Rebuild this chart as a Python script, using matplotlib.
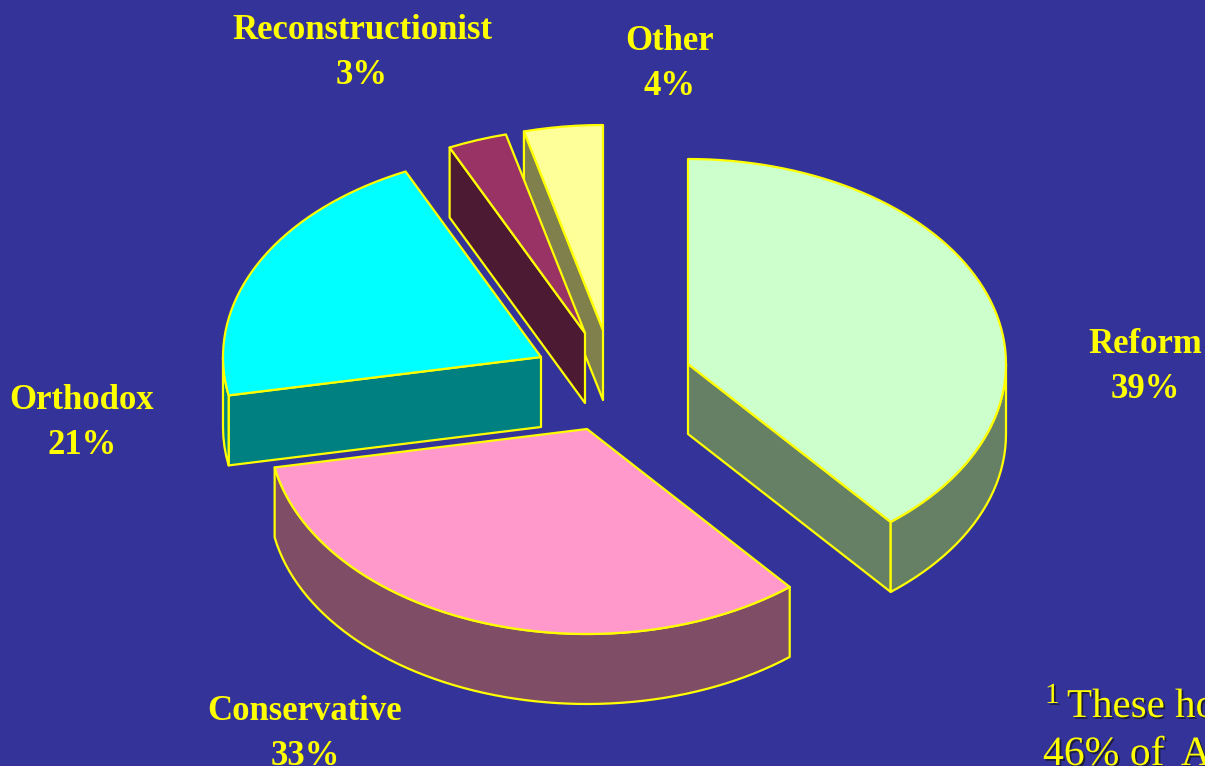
import numpy as np
import matplotlib
matplotlib.use("Agg")
import matplotlib.pyplot as plt
from matplotlib.patches import Polygon
import matplotlib.patheffects as pe

categories = ["Reform", "Conservative", "Orthodox", "Reconstructionist", "Other"]
shares = [39, 33, 21, 3, 4]
share_labels = ["39%", "33%", "21%", "3%", "4%"]
note_lines = ["These ho", "46% of\u2009 A"]

top_colors = ["#CCFFCC", "#FF99CC", "#00FFFF", "#993366", "#FFFF99"]
side_colors = ["#668066", "#804D66", "#008080", "#4D1A33", "#80804D"]
apexes = [(688, 364), (587, 429), (541, 357), (585, 333), (603, 330)]
label_xy = [(1145, 364), (305, 731), (82, 420), (362, 50), (670, 61)]
visible_radial = [1, None, 0, 0, 0]  # which radial edge of each slice shows
draw_order = [4, 3, 2, 0, 1]

RX, RY, DEPTH = 318, 205, 70
BG = "#333399"
EDGE = "#FFFF00"

plt.rcParams["font.family"] = ["Liberation Serif", "DejaVu Serif"]
fig = plt.figure(figsize=(12.05, 7.66), dpi=100, facecolor=BG)
ax = fig.add_axes([0, 0, 1, 1])
ax.set_xlim(0, 1205)
ax.set_ylim(766, 0)
ax.axis("off")

fractions = np.cumsum([0] + shares) / sum(shares) * 2 * np.pi


def rim(apex, a0, a1):
    t = np.linspace(a0, a1, max(3, int((a1 - a0) * 30)))
    return np.column_stack([apex[0] + RX * np.sin(t), apex[1] - RY * np.cos(t)])


def face(points, color, z):
    ax.add_patch(Polygon(points, closed=True, facecolor=color, edgecolor=EDGE,
                         linewidth=1.6, joinstyle="round", zorder=z))


for rank, i in enumerate(draw_order):
    a0, a1 = fractions[i], fractions[i + 1]
    apex = np.array(apexes[i], float)
    z = 2 + rank
    down = np.array([0, DEPTH])
    # radial side face that looks toward the viewer
    if visible_radial[i] is not None:
        a = (a0, a1)[visible_radial[i]]
        p = rim(apex, a, a)[0]
        face([apex, p, p + down, apex + down], side_colors[i], z)
    # outer rim on the front half of the ellipse
    lo, hi = max(a0, np.pi / 2), min(a1, 3 * np.pi / 2)
    if hi > lo:
        r = rim(apex, lo, hi)
        face(np.vstack([r, (r + down)[::-1]]), side_colors[i], z)
    # top
    face(np.vstack([apex, rim(apex, a0, a1)]), top_colors[i], z + 0.5)

for name, share, (x, y) in zip(categories, share_labels, label_xy):
    ax.text(x, y + 3, f"{name}\n{share}", color=EDGE, fontsize=25, fontweight="bold",
            ha="center", va="center", linespacing=1.47, zorder=20)

note_fx = [pe.SimplePatchShadow(offset=(1.3, -1.3), shadow_rgbFace="#1A1A33", alpha=0.9), pe.Normal()]
ax.text(1045, 703, "1", color=EDGE, fontsize=21, va="baseline", ha="left", zorder=20,
        path_effects=note_fx)
ax.text(1067, 717, note_lines[0], color=EDGE, fontsize=29.5, va="baseline", ha="left",
        zorder=20, path_effects=note_fx)
ax.text(1043, 765, note_lines[1], color=EDGE, fontsize=30, va="baseline", ha="left",
        zorder=20, path_effects=note_fx)

fig.savefig("out.png", dpi=100, facecolor=BG)
